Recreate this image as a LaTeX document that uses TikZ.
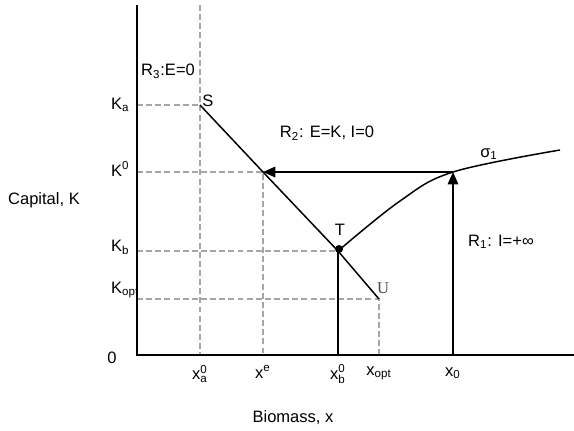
\documentclass[tikz,border=0pt]{standalone}
\usepackage{amsmath}
\usepackage{fontspec}
\setmainfont{Liberation Sans}
\newfontfamily\serifU{Liberation Serif}
\usetikzlibrary{arrows.meta}

\begin{document}
\begin{tikzpicture}[x=0.02cm, y=-0.02cm, font=\fontsize{9.4}{11}\selectfont,
	guide/.style={black!35, line width=0.6pt, dash pattern=on 3.4pt off 1.8pt},
	axis/.style={line width=1.15pt},
	branch/.style={line width=0.85pt},
	flow/.style={branch, -{Triangle[length=7pt, width=6pt]}}]
	\useasboundingbox (0,0) rectangle (574,430);
	% key points
	\coordinate (O) at (137,355);
	\coordinate (ytop) at (137,5);
	\coordinate (xend) at (574,355);
	\coordinate (S) at (200,105);
	\coordinate (E) at (263,172);
	\coordinate (T) at (338,251);
	\coordinate (U) at (379,299);
	\coordinate (P) at (453,172);
	\coordinate (x0) at (453,355);
	\coordinate (xb) at (338,355);
	% dashed guides
	\draw[guide] (200,5) -- (200,355);
	\draw[guide] (137,105) -- (S);
	\draw[guide] (137,172) -- (E) -- (263,355);
	\draw[guide] (137,251) -- (T);
	\draw[guide] (137,299) -- (U) -- (379,355);
	% axes
	\draw[axis] (ytop) -- (O) -- (xend);
	% switching line S-T-U
	\draw[branch] (S) -- (E) -- (T) -- (U);
	\draw[branch] (xb) -- (T);
	% sigma_1 curve
	\draw[branch] plot[smooth, tension=0.6] coordinates {(T) (400,201) (P) (560,150)};
	% trajectory arrows
	\draw[flow] (x0) -- (P);
	\draw[flow] (P) -- (E);
	\fill (339,249) circle (4);
	% axis labels
	\node (ylab) at (44,200) {Capital, K};
	\node (xlab) at (293,418) {Biomass, x};
	\node (zero) at (112,358) {0};
	\node[anchor=west] (Ka) at (105,105) {K\textsubscript{a}};
	\node[anchor=west] (K0) at (105,169) {K$^{\text{0}}$};
	\node[anchor=west] (Kb) at (105,247) {K\textsubscript{b}};
	\node[anchor=west] (Kopt) at (105,290) {K\textsubscript{opt}};
	\node (xa0) at (200,374) {x$^{\text{0}}_{\text{a}}$};
	\node (xe) at (263,372) {x$^{\text{e}}$};
	\node (xb0) at (338,374) {x$^{\text{0}}_{\text{b}}$};
	\node (xopt) at (379,373) {x\textsubscript{opt}};
	\node (xnull) at (453,373) {x\textsubscript{0}};
	% region and point labels
	\node (R3) at (168,71) {R\textsubscript{3}:E=0};
	\node (R2) at (327,133) {R\textsubscript{2}: E=K, I=0};
	\node (R1) at (501,242) {R\textsubscript{1}: I=+∞};
	\node (Slab) at (208,101) {S};
	\node (Tlab) at (340,230) {T};
	\node[black!70] (Ulab) at (383,288) {\serifU U};
	\node (sig) at (489,154) {σ\textsubscript{1}};
\end{tikzpicture}
\end{document}
